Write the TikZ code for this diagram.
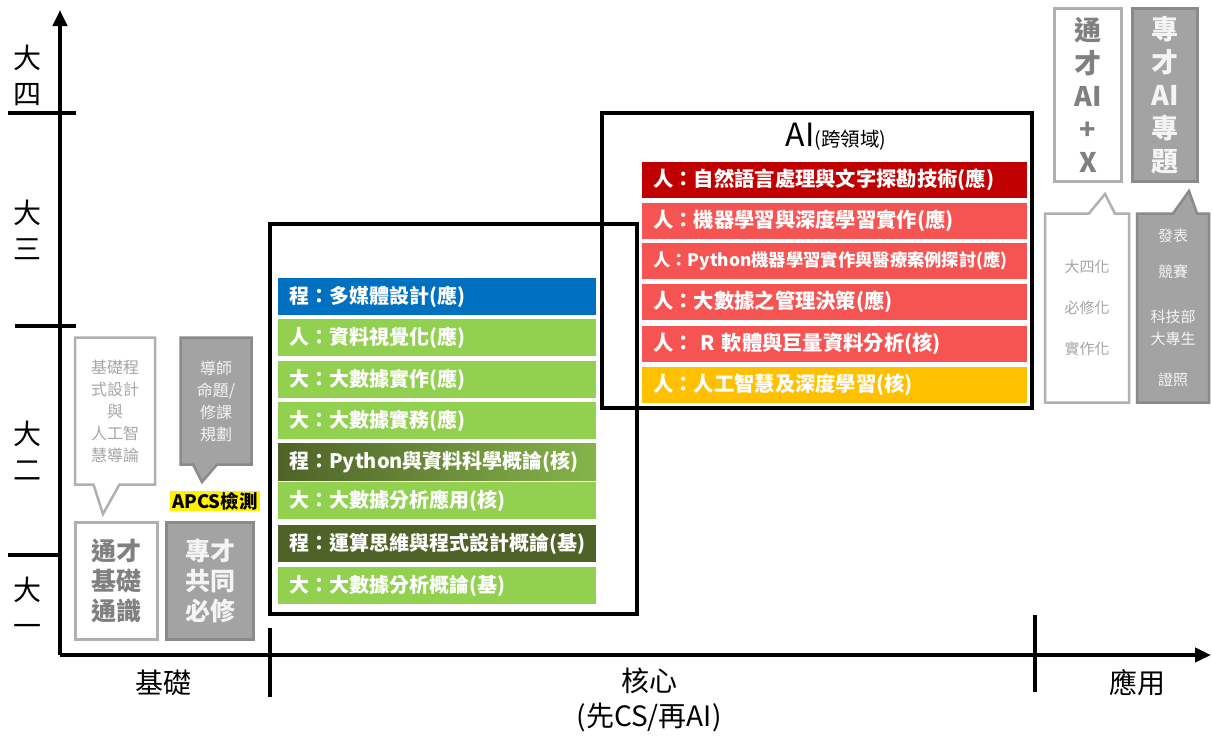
\documentclass[tikz,border=0pt]{standalone}
\usepackage{fontspec}
\setmainfont{Noto Sans CJK TC}
\usetikzlibrary{arrows.meta,shapes.callouts}
\definecolor{cgreen}{HTML}{92D050}
\definecolor{cblue}{HTML}{0070C0}
\definecolor{colive}{HTML}{4F6228}
\definecolor{colivelight}{HTML}{86B44A}
\definecolor{cdred}{HTML}{C00000}
\definecolor{clred}{HTML}{F65353}
\definecolor{cyel}{HTML}{FFC000}
\definecolor{gfill}{HTML}{A3A3A3}
\definecolor{gborder}{HTML}{8A8A8A}
\definecolor{wborder}{HTML}{B0B0B0}
\definecolor{gtext}{HTML}{808080}
\definecolor{ltext}{HTML}{A6A6A6}
\definecolor{wtext}{HTML}{F4F4F4}
\begin{document}
\begin{tikzpicture}[x=1pt,y=-1pt,
  axis/.style={line width=4pt},
  bigbox/.style={draw=black,line width=4pt},
  csbar/.style={anchor=north west,minimum height=37pt,text width=296pt,inner xsep=11pt,inner ysep=0pt,align=left,text=white,font=\bfseries\fontsize{20}{21}\selectfont},
  aibar/.style={anchor=north west,minimum height=36pt,text width=363pt,inner xsep=11pt,inner ysep=0pt,align=left,text=white,font=\bfseries\fontsize{20.3}{21}\selectfont},
  wbox/.style={draw=wborder,fill=white,line width=3pt,text=gtext,align=center,inner sep=0pt},
  gbox/.style={draw=gborder,fill=gfill,line width=3pt,text=wtext,align=center,inner sep=0pt},
  wcall/.style={rectangle callout,draw=wborder,fill=white,line width=2.5pt,text=ltext,align=center,inner sep=0pt,callout pointer width=26pt},
  gcall/.style={rectangle callout,draw=gborder,fill=gfill,line width=2.5pt,text=wtext,align=center,inner sep=0pt,callout pointer width=24pt},
  ylab/.style={align=center,font=\fontsize{28}{36}\selectfont},
  xlab/.style={align=center,font=\fontsize{28}{35}\selectfont}
]
\useasboundingbox (0,0) rectangle (1212,740);

% ---- axes
\coordinate (O) at (60,655);
\coordinate (ytop) at (60,10);
\coordinate (xend) at (1211,655);
\draw[axis,-{Triangle[length=16pt,width=14pt]}] (O) -- (ytop);
\draw[axis,-{Triangle[length=16pt,width=14pt]}] (O) -- (xend);

% y ticks
\coordinate (t1a) at (8,113);  \coordinate (t1b) at (76,113);
\coordinate (t2a) at (15,326); \coordinate (t2b) at (76,326);
\coordinate (t3a) at (8,555);  \coordinate (t3b) at (60,555);
\draw[axis] (t1a) -- (t1b);
\draw[axis] (t2a) -- (t2b);
\draw[axis] (t3a) -- (t3b);
% x ticks
\coordinate (x1a) at (270,628); \coordinate (x1b) at (270,697);
\coordinate (x2a) at (1035,615); \coordinate (x2b) at (1035,692);
\draw[axis] (x1a) -- (x1b);
\draw[axis] (x2a) -- (x2b);

% y labels
\node[ylab] (y4) at (27,75) {大\\四};
\node[ylab] (y3) at (27,230) {大\\三};
\node[ylab] (y2) at (27,451) {大\\二};
\node[ylab] (y1) at (27,607) {大\\一};
% x labels
\node[xlab] (xl1) at (163,683) {基礎};
\node[xlab] (xl2) at (649,700) {核心\\(先CS/再AI)};
\node[xlab] (xl3) at (1137,683) {應用};

% ---- big boxes
\draw[bigbox] (270,224) rectangle (637,614);
\draw[bigbox] (602,113) rectangle (1032,408);
\node (aititle) at (836,137) {\fontsize{32}{32}\selectfont AI\fontsize{19.5}{19.5}\selectfont(跨領域)};

% ---- CS bars
\node[csbar,fill=cblue]  (c1) at (278,278) {程：多媒體設計(應)};
\node[csbar,fill=cgreen] (c2) at (278,319) {人：資料視覺化(應)};
\node[csbar,fill=cgreen] (c3) at (278,361) {大：大數據實作(應)};
\node[csbar,fill=cgreen] (c4) at (278,402) {大：大數據實務(應)};
\node[csbar,left color=colive,right color=colivelight] (c5) at (278,443) {程：Python與資料科學概論(核)};
\node[csbar,fill=cgreen] (c6) at (278,482) {大：大數據分析應用(核)};
\node[csbar,fill=colive] (c7) at (278,525) {程：運算思維與程式設計概論(基)};
\node[csbar,fill=cgreen] (c8) at (278,567) {大：大數據分析概論(基)};

% ---- AI bars
\node[aibar,fill=cdred] (a1) at (642,162) {人：自然語言處理與文字探勘技術(應)};
\node[aibar,fill=clred] (a2) at (642,203) {人：機器學習與深度學習實作(應)};
\node[aibar,fill=clred,font=\bfseries\fontsize{17.3}{19}\selectfont] (a3) at (642,243) {人：Python機器學習實作與醫療案例探討(應)};
\node[aibar,fill=clred] (a4) at (642,284) {人：大數據之管理決策(應)};
\node[aibar,fill=clred] (a5) at (642,326) {人： R 軟體與巨量資料分析(核)};
\node[aibar,fill=cyel]  (a6) at (642,367) {人：人工智慧及深度學習(核)};

% ---- left boxes
\node[wbox,minimum width=82pt,minimum height=117pt,font=\bfseries\fontsize{25}{30}\selectfont] (gen) at (116,581) {通才\\基礎\\通識};
\node[gbox,minimum width=87pt,minimum height=117pt,font=\bfseries\fontsize{25}{30}\selectfont] (pro) at (210,581) {專才\\共同\\必修};
\node[wcall,minimum width=80pt,minimum height=147pt,callout absolute pointer={(103,514)},font=\fontsize{16}{22}\selectfont] (call1) at (115,411) {基礎程\\式設計\\與\\人工智\\慧導論};
\node[gcall,minimum width=71pt,minimum height=127pt,callout absolute pointer={(202,482)},font=\fontsize{16}{22}\selectfont] (call2) at (216,401) {導師\\命題/\\修課\\規劃};
\node[fill=yellow,inner xsep=2pt,inner ysep=1pt,font=\bfseries\fontsize{18.5}{19}\selectfont] (apcs) at (215,501) {APCS檢測};

% ---- right boxes
\node[wbox,minimum width=67pt,minimum height=173pt,font=\bfseries\fontsize{27}{33}\selectfont] (genai) at (1088,95) {通\\才\\AI\\+\\X};
\node[gbox,minimum width=65pt,minimum height=173pt,font=\bfseries\fontsize{27}{33}\selectfont] (proai) at (1165,95) {專\\才\\AI\\專\\題};
\node[wcall,minimum width=84pt,minimum height=189pt,callout absolute pointer={(1105,194)},font=\fontsize{15}{41}\selectfont] (call3) at (1087,308) {大四化\\必修化\\實作化};
\node[gcall,minimum width=72pt,minimum height=189pt,callout absolute pointer={(1189,191)},font=\fontsize{15}{22}\selectfont] (call4) at (1173,308) {發表\\[14pt]競賽\\[23pt]科技部\\大專生\\[19pt]證照};
\end{tikzpicture}
\end{document}
